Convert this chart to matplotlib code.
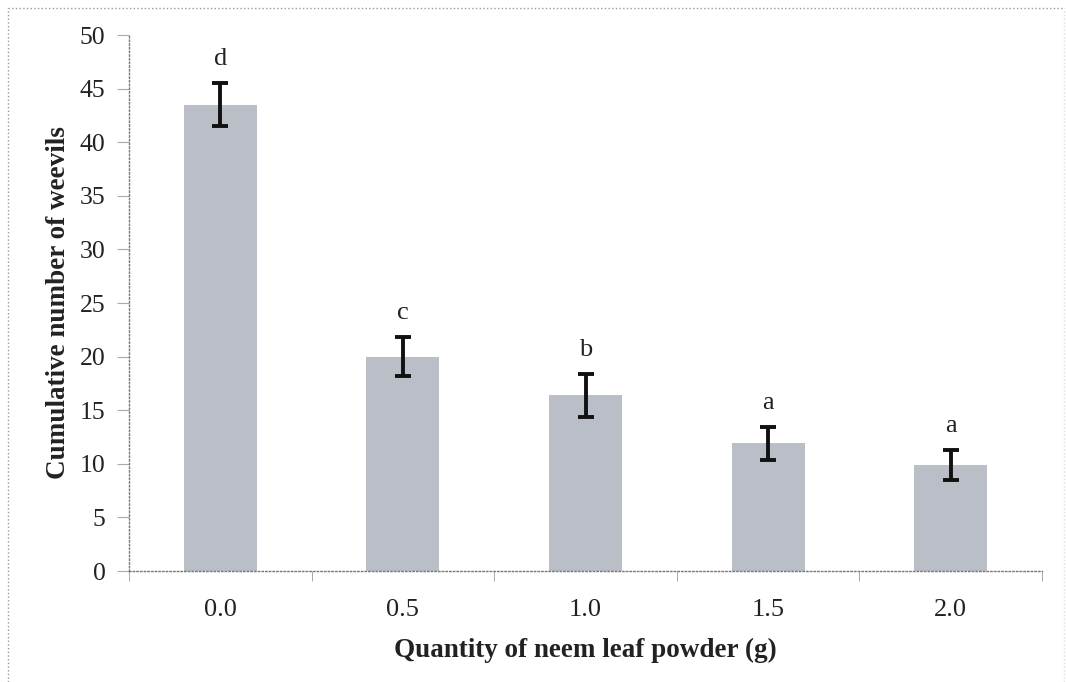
import numpy as np
import matplotlib.pyplot as plt
from matplotlib.lines import Line2D

quantity = ['0.0', '0.5', '1.0', '1.5', '2.0']
weevils = [43.5, 20.0, 16.4, 11.9, 9.9]
errors = [2.0, 1.8, 2.0, 1.5, 1.4]
letters = ['d', 'c', 'b', 'a', 'a']

plt.rcParams['font.family'] = ['Liberation Serif', 'DejaVu Serif']

fig = plt.figure(figsize=(10.66, 6.82), dpi=100)
ax = fig.add_axes([129/1066, 1 - 571/682, 913/1066, 536/682])

x = np.arange(len(quantity))
ax.bar(x, weevils, width=0.4, color='#babec6', edgecolor='none', zorder=2)
ax.errorbar(x, weevils, yerr=errors, fmt='none', ecolor='#111111',
            elinewidth=2.8, capsize=6, capthick=2.8, zorder=3)
for xi, v, e, l in zip(x, weevils, errors, letters):
    ax.text(xi, v + e + 1.2, l, ha='center', va='bottom', fontsize=19, color='#222222')

ax.set_xlim(-0.5, len(quantity) - 0.5)
ax.set_ylim(0, 50)
ax.set_yticks(np.arange(0, 51, 5))
ax.set_xticks(x)
ax.set_xticklabels(quantity)
ax.set_xticks(np.arange(-0.5, len(quantity)), minor=True)
ax.tick_params(axis='x', which='major', length=0, pad=20, labelsize=19, labelcolor='#222222')
ax.tick_params(axis='x', which='minor', length=7, color='#999999', direction='out')
ax.tick_params(axis='y', length=9, color='#aaaaaa', labelsize=18.5, pad=8, labelcolor='#222222')

for s in ['top', 'right']:
    ax.spines[s].set_visible(False)
for s in ['left', 'bottom']:
    ax.spines[s].set_color('#777777')
    ax.spines[s].set_linestyle(':')
    ax.spines[s].set_linewidth(1.0)

ax.set_xlabel('Quantity of neem leaf powder (g)', fontsize=19.5, fontweight='bold',
              labelpad=12, color='#222222')
ax.set_ylabel('Cumulative number of weevils', fontsize=19.5, fontweight='bold',
              labelpad=6, color='#222222')

# dotted frame around the figure (top, left, right)
fig.lines.append(Line2D([8/1066, 1064/1066], [1 - 8/682, 1 - 8/682], transform=fig.transFigure,
                        color='#999999', linestyle=':', linewidth=1))
fig.lines.append(Line2D([8/1066, 8/1066], [0, 1 - 8/682], transform=fig.transFigure,
                        color='#999999', linestyle=':', linewidth=1))
fig.lines.append(Line2D([1064/1066, 1064/1066], [0, 1 - 8/682], transform=fig.transFigure,
                        color='#dddddd', linestyle=':', linewidth=1))

fig.savefig('out.png', dpi=100)
